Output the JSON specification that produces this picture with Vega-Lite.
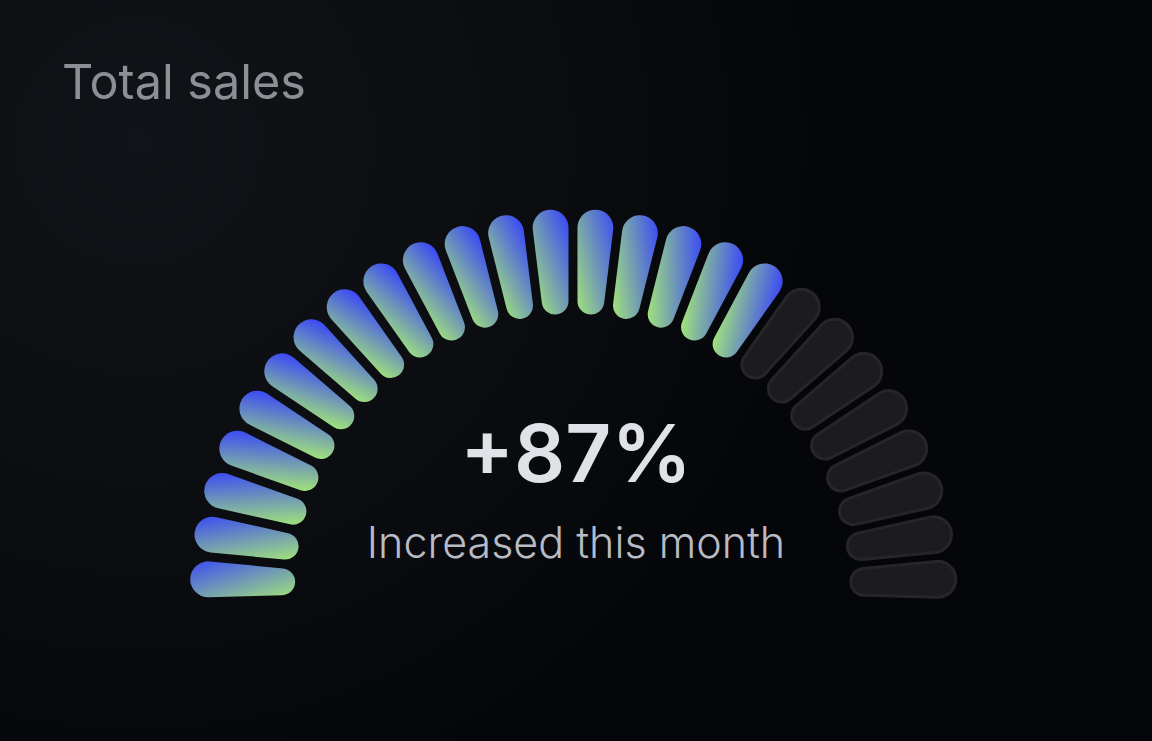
{
  "$schema": "https://vega.github.io/schema/vega-lite/v6.json",
  "width": 1152,
  "height": 741,
  "autosize": {"type": "none"},
  "padding": 0,
  "background": "#07080b",
  "title": {"text": "Total sales", "anchor": "start", "frame": "group", "offset": -147, "dx": 62, "baseline": "alphabetic", "font": "Inter", "fontSize": 48.5, "fontWeight": 400, "color": "#8e8f95"},
  "config": {"view": {"stroke": null, "fill": {"gradient": "radial", "x1": 0.12, "y1": 0.3, "r1": 0, "x2": 0.12, "y2": 0.3, "r2": 0.6, "stops": [{"offset": 0, "color": "#121318"}, {"offset": 0.55, "color": "#0c0d11"}, {"offset": 1, "color": "#050609"}]}}},
  "layer": [
    {
      "data": {"values": [
        {"i": 0, "v": 1, "status": "filled"},
        {"i": 1, "v": 1, "status": "filled"},
        {"i": 2, "v": 1, "status": "filled"},
        {"i": 3, "v": 1, "status": "filled"},
        {"i": 4, "v": 1, "status": "filled"},
        {"i": 5, "v": 1, "status": "filled"},
        {"i": 6, "v": 1, "status": "filled"},
        {"i": 7, "v": 1, "status": "filled"},
        {"i": 8, "v": 1, "status": "filled"},
        {"i": 9, "v": 1, "status": "filled"},
        {"i": 10, "v": 1, "status": "filled"},
        {"i": 11, "v": 1, "status": "filled"},
        {"i": 12, "v": 1, "status": "filled"},
        {"i": 13, "v": 1, "status": "filled"},
        {"i": 14, "v": 1, "status": "filled"},
        {"i": 15, "v": 1, "status": "filled"},
        {"i": 16, "v": 1, "status": "filled"},
        {"i": 17, "v": 1, "status": "filled"},
        {"i": 18, "v": 1, "status": "empty"},
        {"i": 19, "v": 1, "status": "empty"},
        {"i": 20, "v": 1, "status": "empty"},
        {"i": 21, "v": 1, "status": "empty"},
        {"i": 22, "v": 1, "status": "empty"},
        {"i": 23, "v": 1, "status": "empty"},
        {"i": 24, "v": 1, "status": "empty"},
        {"i": 25, "v": 1, "status": "empty"}
      ]},
      "mark": {"type": "arc", "radius": 383, "radius2": 278, "padAngle": 0.019, "cornerRadius": 18, "strokeWidth": 3},
      "encoding": {
        "theta": {"field": "v", "type": "quantitative", "stack": true, "scale": {"domain": [0, 26], "range": [-1.5973, 1.5973]}},
        "order": {"field": "i", "type": "quantitative"},
        "x": {"datum": 0, "type": "quantitative", "scale": {"domain": [-1, 1.0105], "nice": false, "zero": false}, "axis": null},
        "y": {"datum": 0, "type": "quantitative", "scale": {"domain": [-0.25169, 1], "nice": false, "zero": false}, "axis": null},
        "fill": {
          "condition": {
            "test": "datum.status === 'filled'",
            "value": {"expr": "{gradient:'linear',x1:0.5-32.45*((sin(3.10669-0.122871*datum.i)+0.35*cos(3.10669-0.122871*datum.i))*(105*abs(cos(3.10669-0.122871*datum.i))+32*abs(sin(3.10669-0.122871*datum.i)))/1.0595)/(((sin(3.10669-0.122871*datum.i)+0.35*cos(3.10669-0.122871*datum.i))*(105*abs(cos(3.10669-0.122871*datum.i))+32*abs(sin(3.10669-0.122871*datum.i)))/1.0595)*((sin(3.10669-0.122871*datum.i)+0.35*cos(3.10669-0.122871*datum.i))*(105*abs(cos(3.10669-0.122871*datum.i))+32*abs(sin(3.10669-0.122871*datum.i)))/1.0595)+((cos(3.10669-0.122871*datum.i)-0.35*sin(3.10669-0.122871*datum.i))*(105*abs(sin(3.10669-0.122871*datum.i))+32*abs(cos(3.10669-0.122871*datum.i)))/1.0595)*((cos(3.10669-0.122871*datum.i)-0.35*sin(3.10669-0.122871*datum.i))*(105*abs(sin(3.10669-0.122871*datum.i))+32*abs(cos(3.10669-0.122871*datum.i)))/1.0595)),y1:0.5-32.45*((cos(3.10669-0.122871*datum.i)-0.35*sin(3.10669-0.122871*datum.i))*(105*abs(sin(3.10669-0.122871*datum.i))+32*abs(cos(3.10669-0.122871*datum.i)))/1.0595)/(((sin(3.10669-0.122871*datum.i)+0.35*cos(3.10669-0.122871*datum.i))*(105*abs(cos(3.10669-0.122871*datum.i))+32*abs(sin(3.10669-0.122871*datum.i)))/1.0595)*((sin(3.10669-0.122871*datum.i)+0.35*cos(3.10669-0.122871*datum.i))*(105*abs(cos(3.10669-0.122871*datum.i))+32*abs(sin(3.10669-0.122871*datum.i)))/1.0595)+((cos(3.10669-0.122871*datum.i)-0.35*sin(3.10669-0.122871*datum.i))*(105*abs(sin(3.10669-0.122871*datum.i))+32*abs(cos(3.10669-0.122871*datum.i)))/1.0595)*((cos(3.10669-0.122871*datum.i)-0.35*sin(3.10669-0.122871*datum.i))*(105*abs(sin(3.10669-0.122871*datum.i))+32*abs(cos(3.10669-0.122871*datum.i)))/1.0595)),x2:0.5+32.45*((sin(3.10669-0.122871*datum.i)+0.35*cos(3.10669-0.122871*datum.i))*(105*abs(cos(3.10669-0.122871*datum.i))+32*abs(sin(3.10669-0.122871*datum.i)))/1.0595)/(((sin(3.10669-0.122871*datum.i)+0.35*cos(3.10669-0.122871*datum.i))*(105*abs(cos(3.10669-0.122871*datum.i))+32*abs(sin(3.10669-0.122871*datum.i)))/1.0595)*((sin(3.10669-0.122871*datum.i)+0.35*cos(3.10669-0.122871*datum.i))*(105*abs(cos(3.10669-0.122871*datum.i))+32*abs(sin(3.10669-0.122871*datum.i)))/1.0595)+((cos(3.10669-0.122871*datum.i)-0.35*sin(3.10669-0.122871*datum.i))*(105*abs(sin(3.10669-0.122871*datum.i))+32*abs(cos(3.10669-0.122871*datum.i)))/1.0595)*((cos(3.10669-0.122871*datum.i)-0.35*sin(3.10669-0.122871*datum.i))*(105*abs(sin(3.10669-0.122871*datum.i))+32*abs(cos(3.10669-0.122871*datum.i)))/1.0595)),y2:0.5+32.45*((cos(3.10669-0.122871*datum.i)-0.35*sin(3.10669-0.122871*datum.i))*(105*abs(sin(3.10669-0.122871*datum.i))+32*abs(cos(3.10669-0.122871*datum.i)))/1.0595)/(((sin(3.10669-0.122871*datum.i)+0.35*cos(3.10669-0.122871*datum.i))*(105*abs(cos(3.10669-0.122871*datum.i))+32*abs(sin(3.10669-0.122871*datum.i)))/1.0595)*((sin(3.10669-0.122871*datum.i)+0.35*cos(3.10669-0.122871*datum.i))*(105*abs(cos(3.10669-0.122871*datum.i))+32*abs(sin(3.10669-0.122871*datum.i)))/1.0595)+((cos(3.10669-0.122871*datum.i)-0.35*sin(3.10669-0.122871*datum.i))*(105*abs(sin(3.10669-0.122871*datum.i))+32*abs(cos(3.10669-0.122871*datum.i)))/1.0595)*((cos(3.10669-0.122871*datum.i)-0.35*sin(3.10669-0.122871*datum.i))*(105*abs(sin(3.10669-0.122871*datum.i))+32*abs(cos(3.10669-0.122871*datum.i)))/1.0595)),stops:[{offset:0,color:'#a0e27b'},{offset:1,color:'#3d4cf3'}]}"}
          },
          "value": "#1c1c1e"
        },
        "stroke": {"condition": {"test": "datum.status === 'filled'", "value": null}, "value": "#262628"}
      }
    },
    {
      "data": {"values": [{"label": "+87%"}]},
      "mark": {"type": "text", "dy": -110, "baseline": "alphabetic", "align": "center", "font": "Inter", "fontSize": 80, "fontWeight": 600, "color": "#e1e2e7"},
      "encoding": {
        "text": {"field": "label", "type": "nominal"},
        "y": {"datum": 0, "type": "quantitative"}
      }
    },
    {
      "data": {"values": [{"label": "Increased this month"}]},
      "mark": {"type": "text", "dy": -34, "baseline": "alphabetic", "align": "center", "font": "Inter", "fontSize": 43, "fontWeight": 300, "color": "#b8bbc3"},
      "encoding": {
        "text": {"field": "label", "type": "nominal"},
        "y": {"datum": 0, "type": "quantitative"}
      }
    }
  ]
}
